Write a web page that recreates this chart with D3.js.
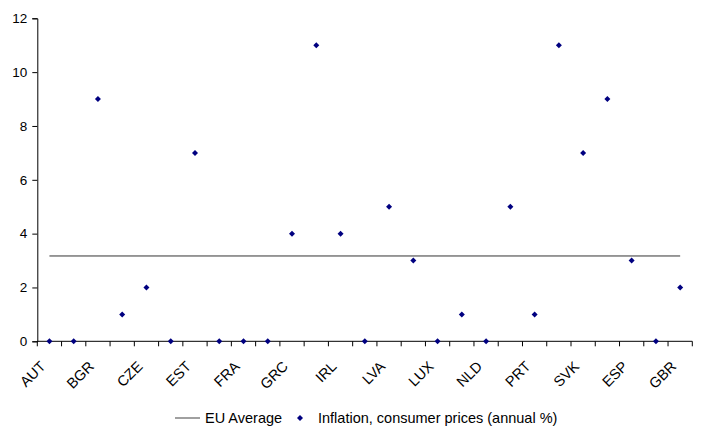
<!DOCTYPE html>
<html>
<head>
<meta charset="utf-8">
<script src="https://cdn.jsdelivr.net/npm/d3@7"></script>
<style>
  html, body { margin: 0; padding: 0; background: #fff; }
  svg { display: block; font-family: "Liberation Sans", Arial, sans-serif; }
</style>
</head>
<body>
<svg id="chart" width="705" height="429"></svg>
<script>
// EU member states (ISO3), in alphabetical order of country name
const countries = ["AUT","BEL","BGR","CYP","CZE","DNK","EST","FIN","FRA","DEU",
                   "GRC","HUN","IRL","ITA","LVA","LTU","LUX","MLT","NLD","POL",
                   "PRT","ROU","SVK","SVN","ESP","SWE","GBR"];
// Inflation, consumer prices (annual %)
const inflation = [0, 0, 9, 1, 2, 0, 7, 0, 0, 0,
                   4, 11, 4, 0, 5, 3, 0, 1, 0, 5,
                   1, 11, 7, 9, 3, 0, 2];
const euAverage = 3.17;
const yTicks = [0, 2, 4, 6, 8, 10, 12];
const seriesNames = ["EU Average", "Inflation, consumer prices (annual %)"];

const svg = d3.select("#chart");
const margin = { left: 37.3, right: 12.7, top: 18.3, bottom: 87.7 };
const W = 705, H = 429;

const x = d3.scaleBand().domain(countries)
  .range([margin.left, W - margin.right]).padding(0);
const y = d3.scaleLinear().domain([0, 12]).range([H - margin.bottom, margin.top]);

// y axis
const yAxis = svg.append("g")
  .attr("transform", `translate(${margin.left},0)`)
  .call(d3.axisLeft(y).tickValues(yTicks).tickSize(5).tickPadding(5).tickFormat(d3.format("d")));
yAxis.selectAll("text").attr("font-size", 13.5).attr("fill", "#000")
  .attr("font-family", "Liberation Sans, Arial, sans-serif");
yAxis.selectAll("line, path").attr("stroke", "#000");

// x axis: ticks at category boundaries
const x0 = y(0);
const g = svg.append("g");
g.append("line").attr("x1", x.range()[0]).attr("x2", x.range()[1])
  .attr("y1", x0).attr("y2", x0).attr("stroke", "#000");
const bounds = countries.map(c => x(c)).concat([x.range()[1]]);
g.selectAll("line.tick").data(bounds).join("line")
  .attr("class", "tick")
  .attr("x1", d => d).attr("x2", d => d)
  .attr("y1", x0).attr("y2", x0 + 5).attr("stroke", "#000");

// category labels, every other one, rotated
g.selectAll("text.lbl").data(countries.filter((c, i) => i % 2 === 0)).join("text")
  .attr("class", "lbl")
  .attr("font-size", 14.5)
  .attr("text-anchor", "end")
  .attr("transform", d => `translate(${x(d) + x.bandwidth() / 2 - 3},${x0 + 26}) rotate(-45)`)
  .text(d => d);

// EU average line
const cx = d => x(d) + x.bandwidth() / 2;
svg.append("line")
  .attr("x1", cx(countries[0])).attr("x2", cx(countries[countries.length - 1]))
  .attr("y1", y(euAverage)).attr("y2", y(euAverage))
  .attr("stroke", "#333").attr("stroke-width", 1);

// diamond markers
const diamond = (s) => `M0,${-s}L${s},0L0,${s}L${-s},0Z`;
svg.append("g").selectAll("path").data(countries).join("path")
  .attr("d", diamond(3))
  .attr("fill", "#000080")
  .attr("transform", (d, i) => `translate(${cx(d)},${y(inflation[i])})`);

// legend
const leg = svg.append("g").attr("font-size", 14.5);
leg.append("line").attr("x1", 175).attr("x2", 200).attr("y1", 418).attr("y2", 418)
  .attr("stroke", "#808080").attr("stroke-width", 1.5);
leg.append("text").attr("x", 205).attr("y", 423).text(seriesNames[0]);
leg.append("path").attr("d", diamond(3)).attr("fill", "#000080")
  .attr("transform", "translate(300,418)");
leg.append("text").attr("x", 318).attr("y", 423).text(seriesNames[1]);
</script>
</body>
</html>
